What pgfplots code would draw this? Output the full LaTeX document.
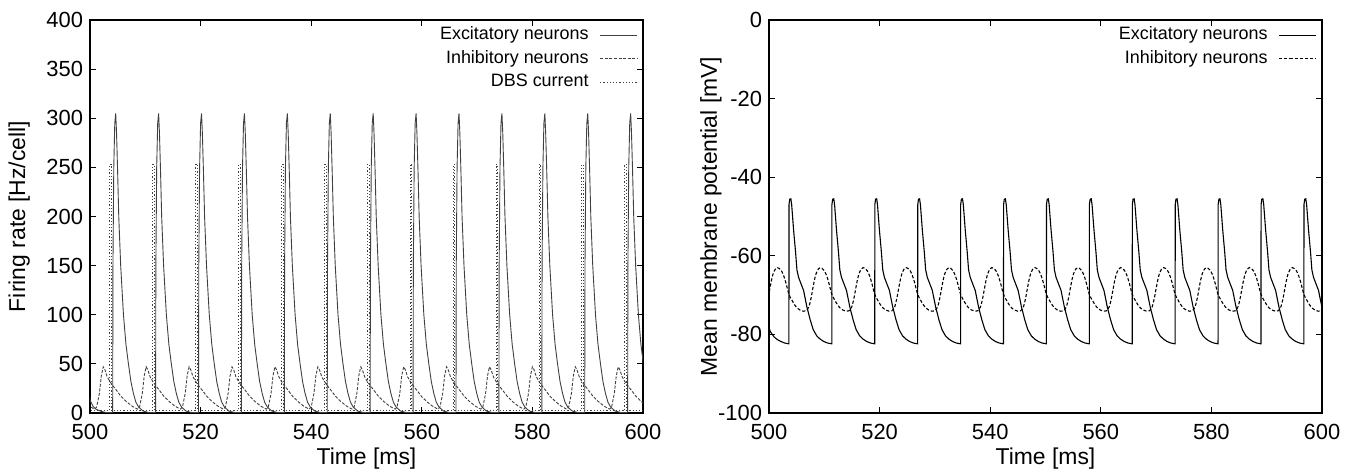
\documentclass[border=0pt]{standalone}
\usepackage{fontspec}
\setmainfont{Liberation Sans}
\usepackage{pgfplots}
\usepackage{pgfplotstable}
\pgfplotsset{compat=1.18}

% left panel: firing rates
\pgfplotstableread[row sep=\\]{t r\\
499.19 40\\ 499.64 22\\ 500.09 12\\ 500.54 7\\ 501.04 4\\ 501.84 2\\ 502.84 0.5\\
504.10 0.5\\ 504.15 150\\ 504.30 250\\ 504.48 295\\ 504.65 305\\ 504.80 285\\ 505.00 245\\ 505.20 200\\ 505.55 150\\ 506.05 100\\ 506.50 70\\ 506.95 50\\ 507.40 32\\ 507.85 20\\ 508.30 11\\ 508.80 6\\ 509.60 2\\ 510.60 0.5\\
511.86 0.5\\ 511.91 150\\ 512.06 250\\ 512.24 295\\ 512.41 305\\ 512.56 285\\ 512.76 245\\ 512.96 200\\ 513.31 150\\ 513.81 100\\ 514.26 70\\ 514.71 50\\ 515.16 32\\ 515.61 20\\ 516.06 11\\ 516.56 6\\ 517.36 2\\ 518.36 0.5\\
519.62 0.5\\ 519.67 150\\ 519.82 250\\ 520.00 295\\ 520.17 305\\ 520.32 285\\ 520.52 245\\ 520.72 200\\ 521.07 150\\ 521.57 100\\ 522.02 70\\ 522.47 50\\ 522.92 32\\ 523.37 20\\ 523.82 11\\ 524.32 6\\ 525.12 2\\ 526.12 0.5\\
527.38 0.5\\ 527.43 150\\ 527.58 250\\ 527.76 295\\ 527.93 305\\ 528.08 285\\ 528.28 245\\ 528.48 200\\ 528.83 150\\ 529.33 100\\ 529.78 70\\ 530.23 50\\ 530.68 32\\ 531.13 20\\ 531.58 11\\ 532.08 6\\ 532.88 2\\ 533.88 0.5\\
535.14 0.5\\ 535.19 150\\ 535.34 250\\ 535.52 295\\ 535.69 305\\ 535.84 285\\ 536.04 245\\ 536.24 200\\ 536.59 150\\ 537.09 100\\ 537.54 70\\ 537.99 50\\ 538.44 32\\ 538.89 20\\ 539.34 11\\ 539.84 6\\ 540.64 2\\ 541.64 0.5\\
542.90 0.5\\ 542.95 150\\ 543.10 250\\ 543.28 295\\ 543.45 305\\ 543.60 285\\ 543.80 245\\ 544.00 200\\ 544.35 150\\ 544.85 100\\ 545.30 70\\ 545.75 50\\ 546.20 32\\ 546.65 20\\ 547.10 11\\ 547.60 6\\ 548.40 2\\ 549.40 0.5\\
550.66 0.5\\ 550.71 150\\ 550.86 250\\ 551.04 295\\ 551.21 305\\ 551.36 285\\ 551.56 245\\ 551.76 200\\ 552.11 150\\ 552.61 100\\ 553.06 70\\ 553.51 50\\ 553.96 32\\ 554.41 20\\ 554.86 11\\ 555.36 6\\ 556.16 2\\ 557.16 0.5\\
558.42 0.5\\ 558.47 150\\ 558.62 250\\ 558.80 295\\ 558.97 305\\ 559.12 285\\ 559.32 245\\ 559.52 200\\ 559.87 150\\ 560.37 100\\ 560.82 70\\ 561.27 50\\ 561.72 32\\ 562.17 20\\ 562.62 11\\ 563.12 6\\ 563.92 2\\ 564.92 0.5\\
566.18 0.5\\ 566.23 150\\ 566.38 250\\ 566.56 295\\ 566.73 305\\ 566.88 285\\ 567.08 245\\ 567.28 200\\ 567.63 150\\ 568.13 100\\ 568.58 70\\ 569.03 50\\ 569.48 32\\ 569.93 20\\ 570.38 11\\ 570.88 6\\ 571.68 2\\ 572.68 0.5\\
573.94 0.5\\ 573.99 150\\ 574.14 250\\ 574.32 295\\ 574.49 305\\ 574.64 285\\ 574.84 245\\ 575.04 200\\ 575.39 150\\ 575.89 100\\ 576.34 70\\ 576.79 50\\ 577.24 32\\ 577.69 20\\ 578.14 11\\ 578.64 6\\ 579.44 2\\ 580.44 0.5\\
581.70 0.5\\ 581.75 150\\ 581.90 250\\ 582.08 295\\ 582.25 305\\ 582.40 285\\ 582.60 245\\ 582.80 200\\ 583.15 150\\ 583.65 100\\ 584.10 70\\ 584.55 50\\ 585.00 32\\ 585.45 20\\ 585.90 11\\ 586.40 6\\ 587.20 2\\ 588.20 0.5\\
589.46 0.5\\ 589.51 150\\ 589.66 250\\ 589.84 295\\ 590.01 305\\ 590.16 285\\ 590.36 245\\ 590.56 200\\ 590.91 150\\ 591.41 100\\ 591.86 70\\ 592.31 50\\ 592.76 32\\ 593.21 20\\ 593.66 11\\ 594.16 6\\ 594.96 2\\ 595.96 0.5\\
597.22 0.5\\ 597.27 150\\ 597.42 250\\ 597.60 295\\ 597.77 305\\ 597.92 285\\ 598.12 245\\ 598.32 200\\ 598.67 150\\ 599.17 100\\ 599.62 70\\ 600.07 50\\ 600.52 32\\
}\exrate

\pgfplotstableread[row sep=\\]{t r\\
498.84 11.5\\ 499.84 7\\ 500.64 4.5\\
500.85 4\\ 501.20 6\\ 501.70 20\\ 502.05 38\\ 502.40 47\\ 502.70 44\\ 503.10 37\\ 503.60 32\\ 504.10 28\\ 504.80 23\\ 505.60 17\\ 506.60 11.5\\ 507.60 7\\ 508.40 4.5\\
508.61 4\\ 508.96 6\\ 509.46 20\\ 509.81 38\\ 510.16 47\\ 510.46 44\\ 510.86 37\\ 511.36 32\\ 511.86 28\\ 512.56 23\\ 513.36 17\\ 514.36 11.5\\ 515.36 7\\ 516.16 4.5\\
516.37 4\\ 516.72 6\\ 517.22 20\\ 517.57 38\\ 517.92 47\\ 518.22 44\\ 518.62 37\\ 519.12 32\\ 519.62 28\\ 520.32 23\\ 521.12 17\\ 522.12 11.5\\ 523.12 7\\ 523.92 4.5\\
524.13 4\\ 524.48 6\\ 524.98 20\\ 525.33 38\\ 525.68 47\\ 525.98 44\\ 526.38 37\\ 526.88 32\\ 527.38 28\\ 528.08 23\\ 528.88 17\\ 529.88 11.5\\ 530.88 7\\ 531.68 4.5\\
531.89 4\\ 532.24 6\\ 532.74 20\\ 533.09 38\\ 533.44 47\\ 533.74 44\\ 534.14 37\\ 534.64 32\\ 535.14 28\\ 535.84 23\\ 536.64 17\\ 537.64 11.5\\ 538.64 7\\ 539.44 4.5\\
539.65 4\\ 540.00 6\\ 540.50 20\\ 540.85 38\\ 541.20 47\\ 541.50 44\\ 541.90 37\\ 542.40 32\\ 542.90 28\\ 543.60 23\\ 544.40 17\\ 545.40 11.5\\ 546.40 7\\ 547.20 4.5\\
547.41 4\\ 547.76 6\\ 548.26 20\\ 548.61 38\\ 548.96 47\\ 549.26 44\\ 549.66 37\\ 550.16 32\\ 550.66 28\\ 551.36 23\\ 552.16 17\\ 553.16 11.5\\ 554.16 7\\ 554.96 4.5\\
555.17 4\\ 555.52 6\\ 556.02 20\\ 556.37 38\\ 556.72 47\\ 557.02 44\\ 557.42 37\\ 557.92 32\\ 558.42 28\\ 559.12 23\\ 559.92 17\\ 560.92 11.5\\ 561.92 7\\ 562.72 4.5\\
562.93 4\\ 563.28 6\\ 563.78 20\\ 564.13 38\\ 564.48 47\\ 564.78 44\\ 565.18 37\\ 565.68 32\\ 566.18 28\\ 566.88 23\\ 567.68 17\\ 568.68 11.5\\ 569.68 7\\ 570.48 4.5\\
570.69 4\\ 571.04 6\\ 571.54 20\\ 571.89 38\\ 572.24 47\\ 572.54 44\\ 572.94 37\\ 573.44 32\\ 573.94 28\\ 574.64 23\\ 575.44 17\\ 576.44 11.5\\ 577.44 7\\ 578.24 4.5\\
578.45 4\\ 578.80 6\\ 579.30 20\\ 579.65 38\\ 580.00 47\\ 580.30 44\\ 580.70 37\\ 581.20 32\\ 581.70 28\\ 582.40 23\\ 583.20 17\\ 584.20 11.5\\ 585.20 7\\ 586.00 4.5\\
586.21 4\\ 586.56 6\\ 587.06 20\\ 587.41 38\\ 587.76 47\\ 588.06 44\\ 588.46 37\\ 588.96 32\\ 589.46 28\\ 590.16 23\\ 590.96 17\\ 591.96 11.5\\ 592.96 7\\ 593.76 4.5\\
593.97 4\\ 594.32 6\\ 594.82 20\\ 595.17 38\\ 595.52 47\\ 595.82 44\\ 596.22 37\\ 596.72 32\\ 597.22 28\\ 597.92 23\\ 598.72 17\\ 599.72 11.5\\ 600.72 7\\
}\inrate

\pgfplotstableread[row sep=\\]{t r\\
499.00 2.5\\
503.60 2.5\\ 503.60 253\\ 503.90 253\\ 503.90 2.5\\
511.36 2.5\\ 511.36 253\\ 511.66 253\\ 511.66 2.5\\
519.12 2.5\\ 519.12 253\\ 519.42 253\\ 519.42 2.5\\
526.88 2.5\\ 526.88 253\\ 527.18 253\\ 527.18 2.5\\
534.64 2.5\\ 534.64 253\\ 534.94 253\\ 534.94 2.5\\
542.40 2.5\\ 542.40 253\\ 542.70 253\\ 542.70 2.5\\
550.16 2.5\\ 550.16 253\\ 550.46 253\\ 550.46 2.5\\
557.92 2.5\\ 557.92 253\\ 558.22 253\\ 558.22 2.5\\
565.68 2.5\\ 565.68 253\\ 565.98 253\\ 565.98 2.5\\
573.44 2.5\\ 573.44 253\\ 573.74 253\\ 573.74 2.5\\
581.20 2.5\\ 581.20 253\\ 581.50 253\\ 581.50 2.5\\
588.96 2.5\\ 588.96 253\\ 589.26 253\\ 589.26 2.5\\
596.72 2.5\\ 596.72 253\\ 597.02 253\\ 597.02 2.5\\
601.00 2.5\\
}\dbs

% right panel: mean membrane potentials
\pgfplotstableread[row sep=\\]{t v\\
499.69 -77.0\\ 500.24 -79.3\\ 500.89 -80.6\\ 501.49 -81.3\\ 502.14 -81.8\\ 502.84 -82.2\\
503.60 -82.4\\ 503.62 -47\\ 503.75 -45.6\\ 503.95 -45.5\\ 504.10 -47\\ 504.45 -53.5\\ 504.80 -59\\ 505.05 -63.6\\ 505.35 -65.5\\ 505.65 -66.6\\ 506.25 -68.8\\ 506.85 -73\\ 507.45 -76.3\\ 508.00 -78.8\\ 508.65 -80.4\\ 509.25 -81.2\\ 509.90 -81.8\\ 510.60 -82.2\\
511.36 -82.4\\ 511.38 -47\\ 511.51 -45.6\\ 511.71 -45.5\\ 511.86 -47\\ 512.21 -53.5\\ 512.56 -59\\ 512.81 -63.6\\ 513.11 -65.5\\ 513.41 -66.6\\ 514.01 -68.8\\ 514.61 -73\\ 515.21 -76.3\\ 515.76 -78.8\\ 516.41 -80.4\\ 517.01 -81.2\\ 517.66 -81.8\\ 518.36 -82.2\\
519.12 -82.4\\ 519.14 -47\\ 519.27 -45.6\\ 519.47 -45.5\\ 519.62 -47\\ 519.97 -53.5\\ 520.32 -59\\ 520.57 -63.6\\ 520.87 -65.5\\ 521.17 -66.6\\ 521.77 -68.8\\ 522.37 -73\\ 522.97 -76.3\\ 523.52 -78.8\\ 524.17 -80.4\\ 524.77 -81.2\\ 525.42 -81.8\\ 526.12 -82.2\\
526.88 -82.4\\ 526.90 -47\\ 527.03 -45.6\\ 527.23 -45.5\\ 527.38 -47\\ 527.73 -53.5\\ 528.08 -59\\ 528.33 -63.6\\ 528.63 -65.5\\ 528.93 -66.6\\ 529.53 -68.8\\ 530.13 -73\\ 530.73 -76.3\\ 531.28 -78.8\\ 531.93 -80.4\\ 532.53 -81.2\\ 533.18 -81.8\\ 533.88 -82.2\\
534.64 -82.4\\ 534.66 -47\\ 534.79 -45.6\\ 534.99 -45.5\\ 535.14 -47\\ 535.49 -53.5\\ 535.84 -59\\ 536.09 -63.6\\ 536.39 -65.5\\ 536.69 -66.6\\ 537.29 -68.8\\ 537.89 -73\\ 538.49 -76.3\\ 539.04 -78.8\\ 539.69 -80.4\\ 540.29 -81.2\\ 540.94 -81.8\\ 541.64 -82.2\\
542.40 -82.4\\ 542.42 -47\\ 542.55 -45.6\\ 542.75 -45.5\\ 542.90 -47\\ 543.25 -53.5\\ 543.60 -59\\ 543.85 -63.6\\ 544.15 -65.5\\ 544.45 -66.6\\ 545.05 -68.8\\ 545.65 -73\\ 546.25 -76.3\\ 546.80 -78.8\\ 547.45 -80.4\\ 548.05 -81.2\\ 548.70 -81.8\\ 549.40 -82.2\\
550.16 -82.4\\ 550.18 -47\\ 550.31 -45.6\\ 550.51 -45.5\\ 550.66 -47\\ 551.01 -53.5\\ 551.36 -59\\ 551.61 -63.6\\ 551.91 -65.5\\ 552.21 -66.6\\ 552.81 -68.8\\ 553.41 -73\\ 554.01 -76.3\\ 554.56 -78.8\\ 555.21 -80.4\\ 555.81 -81.2\\ 556.46 -81.8\\ 557.16 -82.2\\
557.92 -82.4\\ 557.94 -47\\ 558.07 -45.6\\ 558.27 -45.5\\ 558.42 -47\\ 558.77 -53.5\\ 559.12 -59\\ 559.37 -63.6\\ 559.67 -65.5\\ 559.97 -66.6\\ 560.57 -68.8\\ 561.17 -73\\ 561.77 -76.3\\ 562.32 -78.8\\ 562.97 -80.4\\ 563.57 -81.2\\ 564.22 -81.8\\ 564.92 -82.2\\
565.68 -82.4\\ 565.70 -47\\ 565.83 -45.6\\ 566.03 -45.5\\ 566.18 -47\\ 566.53 -53.5\\ 566.88 -59\\ 567.13 -63.6\\ 567.43 -65.5\\ 567.73 -66.6\\ 568.33 -68.8\\ 568.93 -73\\ 569.53 -76.3\\ 570.08 -78.8\\ 570.73 -80.4\\ 571.33 -81.2\\ 571.98 -81.8\\ 572.68 -82.2\\
573.44 -82.4\\ 573.46 -47\\ 573.59 -45.6\\ 573.79 -45.5\\ 573.94 -47\\ 574.29 -53.5\\ 574.64 -59\\ 574.89 -63.6\\ 575.19 -65.5\\ 575.49 -66.6\\ 576.09 -68.8\\ 576.69 -73\\ 577.29 -76.3\\ 577.84 -78.8\\ 578.49 -80.4\\ 579.09 -81.2\\ 579.74 -81.8\\ 580.44 -82.2\\
581.20 -82.4\\ 581.22 -47\\ 581.35 -45.6\\ 581.55 -45.5\\ 581.70 -47\\ 582.05 -53.5\\ 582.40 -59\\ 582.65 -63.6\\ 582.95 -65.5\\ 583.25 -66.6\\ 583.85 -68.8\\ 584.45 -73\\ 585.05 -76.3\\ 585.60 -78.8\\ 586.25 -80.4\\ 586.85 -81.2\\ 587.50 -81.8\\ 588.20 -82.2\\
588.96 -82.4\\ 588.98 -47\\ 589.11 -45.6\\ 589.31 -45.5\\ 589.46 -47\\ 589.81 -53.5\\ 590.16 -59\\ 590.41 -63.6\\ 590.71 -65.5\\ 591.01 -66.6\\ 591.61 -68.8\\ 592.21 -73\\ 592.81 -76.3\\ 593.36 -78.8\\ 594.01 -80.4\\ 594.61 -81.2\\ 595.26 -81.8\\ 595.96 -82.2\\
596.72 -82.4\\ 596.74 -47\\ 596.87 -45.6\\ 597.07 -45.5\\ 597.22 -47\\ 597.57 -53.5\\ 597.92 -59\\ 598.17 -63.6\\ 598.47 -65.5\\ 598.77 -66.6\\ 599.37 -68.8\\ 599.97 -73\\ 600.57 -76.3\\
}\exmem

\pgfplotstableread[row sep=\\]{t v\\
499.44 -73.0\\ 499.84 -70.8\\ 500.14 -68.5\\ 500.44 -66.3\\ 500.74 -64.6\\ 501.14 -63.4\\ 501.49 -63.0\\ 501.84 -63.2\\ 502.24 -63.8\\ 502.64 -65.0\\ 503.04 -66.8\\
503.60 -69.8\\ 504.10 -71.2\\ 504.60 -72.4\\ 505.10 -73.3\\ 505.60 -73.8\\ 506.20 -74.1\\ 506.70 -74.0\\ 507.20 -73.0\\ 507.60 -70.8\\ 507.90 -68.5\\ 508.20 -66.3\\ 508.50 -64.6\\ 508.90 -63.4\\ 509.25 -63.0\\ 509.60 -63.2\\ 510.00 -63.8\\ 510.40 -65.0\\ 510.80 -66.8\\
511.36 -69.8\\ 511.86 -71.2\\ 512.36 -72.4\\ 512.86 -73.3\\ 513.36 -73.8\\ 513.96 -74.1\\ 514.46 -74.0\\ 514.96 -73.0\\ 515.36 -70.8\\ 515.66 -68.5\\ 515.96 -66.3\\ 516.26 -64.6\\ 516.66 -63.4\\ 517.01 -63.0\\ 517.36 -63.2\\ 517.76 -63.8\\ 518.16 -65.0\\ 518.56 -66.8\\
519.12 -69.8\\ 519.62 -71.2\\ 520.12 -72.4\\ 520.62 -73.3\\ 521.12 -73.8\\ 521.72 -74.1\\ 522.22 -74.0\\ 522.72 -73.0\\ 523.12 -70.8\\ 523.42 -68.5\\ 523.72 -66.3\\ 524.02 -64.6\\ 524.42 -63.4\\ 524.77 -63.0\\ 525.12 -63.2\\ 525.52 -63.8\\ 525.92 -65.0\\ 526.32 -66.8\\
526.88 -69.8\\ 527.38 -71.2\\ 527.88 -72.4\\ 528.38 -73.3\\ 528.88 -73.8\\ 529.48 -74.1\\ 529.98 -74.0\\ 530.48 -73.0\\ 530.88 -70.8\\ 531.18 -68.5\\ 531.48 -66.3\\ 531.78 -64.6\\ 532.18 -63.4\\ 532.53 -63.0\\ 532.88 -63.2\\ 533.28 -63.8\\ 533.68 -65.0\\ 534.08 -66.8\\
534.64 -69.8\\ 535.14 -71.2\\ 535.64 -72.4\\ 536.14 -73.3\\ 536.64 -73.8\\ 537.24 -74.1\\ 537.74 -74.0\\ 538.24 -73.0\\ 538.64 -70.8\\ 538.94 -68.5\\ 539.24 -66.3\\ 539.54 -64.6\\ 539.94 -63.4\\ 540.29 -63.0\\ 540.64 -63.2\\ 541.04 -63.8\\ 541.44 -65.0\\ 541.84 -66.8\\
542.40 -69.8\\ 542.90 -71.2\\ 543.40 -72.4\\ 543.90 -73.3\\ 544.40 -73.8\\ 545.00 -74.1\\ 545.50 -74.0\\ 546.00 -73.0\\ 546.40 -70.8\\ 546.70 -68.5\\ 547.00 -66.3\\ 547.30 -64.6\\ 547.70 -63.4\\ 548.05 -63.0\\ 548.40 -63.2\\ 548.80 -63.8\\ 549.20 -65.0\\ 549.60 -66.8\\
550.16 -69.8\\ 550.66 -71.2\\ 551.16 -72.4\\ 551.66 -73.3\\ 552.16 -73.8\\ 552.76 -74.1\\ 553.26 -74.0\\ 553.76 -73.0\\ 554.16 -70.8\\ 554.46 -68.5\\ 554.76 -66.3\\ 555.06 -64.6\\ 555.46 -63.4\\ 555.81 -63.0\\ 556.16 -63.2\\ 556.56 -63.8\\ 556.96 -65.0\\ 557.36 -66.8\\
557.92 -69.8\\ 558.42 -71.2\\ 558.92 -72.4\\ 559.42 -73.3\\ 559.92 -73.8\\ 560.52 -74.1\\ 561.02 -74.0\\ 561.52 -73.0\\ 561.92 -70.8\\ 562.22 -68.5\\ 562.52 -66.3\\ 562.82 -64.6\\ 563.22 -63.4\\ 563.57 -63.0\\ 563.92 -63.2\\ 564.32 -63.8\\ 564.72 -65.0\\ 565.12 -66.8\\
565.68 -69.8\\ 566.18 -71.2\\ 566.68 -72.4\\ 567.18 -73.3\\ 567.68 -73.8\\ 568.28 -74.1\\ 568.78 -74.0\\ 569.28 -73.0\\ 569.68 -70.8\\ 569.98 -68.5\\ 570.28 -66.3\\ 570.58 -64.6\\ 570.98 -63.4\\ 571.33 -63.0\\ 571.68 -63.2\\ 572.08 -63.8\\ 572.48 -65.0\\ 572.88 -66.8\\
573.44 -69.8\\ 573.94 -71.2\\ 574.44 -72.4\\ 574.94 -73.3\\ 575.44 -73.8\\ 576.04 -74.1\\ 576.54 -74.0\\ 577.04 -73.0\\ 577.44 -70.8\\ 577.74 -68.5\\ 578.04 -66.3\\ 578.34 -64.6\\ 578.74 -63.4\\ 579.09 -63.0\\ 579.44 -63.2\\ 579.84 -63.8\\ 580.24 -65.0\\ 580.64 -66.8\\
581.20 -69.8\\ 581.70 -71.2\\ 582.20 -72.4\\ 582.70 -73.3\\ 583.20 -73.8\\ 583.80 -74.1\\ 584.30 -74.0\\ 584.80 -73.0\\ 585.20 -70.8\\ 585.50 -68.5\\ 585.80 -66.3\\ 586.10 -64.6\\ 586.50 -63.4\\ 586.85 -63.0\\ 587.20 -63.2\\ 587.60 -63.8\\ 588.00 -65.0\\ 588.40 -66.8\\
588.96 -69.8\\ 589.46 -71.2\\ 589.96 -72.4\\ 590.46 -73.3\\ 590.96 -73.8\\ 591.56 -74.1\\ 592.06 -74.0\\ 592.56 -73.0\\ 592.96 -70.8\\ 593.26 -68.5\\ 593.56 -66.3\\ 593.86 -64.6\\ 594.26 -63.4\\ 594.61 -63.0\\ 594.96 -63.2\\ 595.36 -63.8\\ 595.76 -65.0\\ 596.16 -66.8\\
596.72 -69.8\\ 597.22 -71.2\\ 597.72 -72.4\\ 598.22 -73.3\\ 598.72 -73.8\\ 599.32 -74.1\\ 599.82 -74.0\\ 600.32 -73.0\\
}\inmem

\pgfplotsset{
  gp/.style={
    width=276.5bp, height=196.5bp, scale only axis,
    xmin=500, xmax=600, xtick={500,520,...,600},
    tick align=inside, major tick length=3bp,
    axis line style={line width=0.9bp},
    every tick/.style={line width=0.6bp, black},
    tick label style={font=\fontsize{11}{13}\selectfont},
    xticklabel style={yshift=-2.2bp},
    label style={font=\fontsize{11.5}{13}\selectfont},
    /pgf/number format/assume math mode=true,
    xlabel={Time [ms]},
    xlabel style={at={(axis description cs:0.5,-0.117)}, anchor=center},
    legend cell align=right,
    legend plot pos=right,
    legend image code/.code={\draw[##1] (0bp,0bp) -- (18.5bp,0bp);},
    legend style={draw=none, fill=none, inner sep=0pt,
      at={(axis description cs:1,1)}, anchor=north east,
      xshift=-2.5bp, yshift=-2.2bp,
      font=\fontsize{9}{10}\selectfont, row sep=1.35bp, column sep=4.5bp,
      nodes={inner sep=1bp, text height=6.5bp, text depth=1.9bp}},
  },
}

\begin{document}
\begin{tikzpicture}
\useasboundingbox (-45bp,-31bp) rectangle (633.5bp,206.5bp);
\begin{axis}[gp,
    ymin=0, ymax=400, ytick={0,50,...,400},
    ylabel={Firing rate [Hz/cell]},
    ylabel style={at={(axis description cs:-0.128,0.5)}, anchor=center},
]
\addplot[black!75, line width=0.45bp] table {\exrate};
\addplot[black!75, line width=0.45bp, dash pattern=on 1.5bp off 0.8bp] table {\inrate};
\addplot[black!75, line width=0.5bp, dash pattern=on 0.6bp off 1bp] table {\dbs};
\legend{Excitatory neurons, Inhibitory neurons, DBS current}
\end{axis}
\begin{axis}[gp, at={(339.5bp,0)},
    ymin=-100, ymax=0, ytick={-100,-80,...,0},
    ylabel={Mean membrane potential [mV]},
    ylabel style={at={(axis description cs:-0.105,0.5)}, anchor=center},
]
\addplot[black, line width=0.55bp] table {\exmem};
\addplot[black, line width=0.55bp, dash pattern=on 1.6bp off 1bp, smooth] table {\inmem};
\legend{Excitatory neurons, Inhibitory neurons}
\end{axis}
\end{tikzpicture}
\end{document}
